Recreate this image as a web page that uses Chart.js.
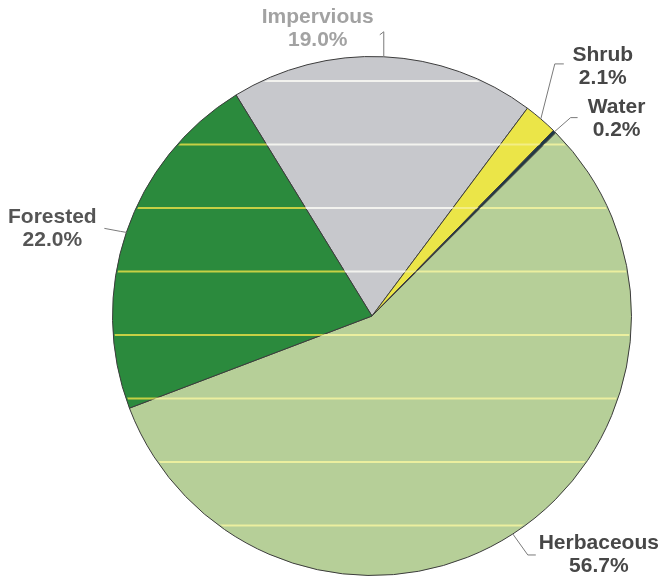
<!DOCTYPE html>
<html>
<head>
<meta charset="utf-8">
<script src="https://cdn.jsdelivr.net/npm/chart.js@4"></script>
<style>
  html, body { margin: 0; padding: 0; background: #ffffff; }
  #wrap { width: 663px; height: 578px; }
</style>
</head>
<body>
<div id="wrap"><canvas id="landCover" width="663" height="578"></canvas></div>
<script>
// ==========================
// Land cover data
// ==========================
const categories = ["Impervious", "Shrub", "Water", "Herbaceous", "Forested"];
const shares = [19.0, 2.1, 0.2, 56.7, 22.0];
const shareLabels = ["19.0%", "2.1%", "0.2%", "56.7%", "22.0%"];

const sliceColors = ["#c7c8cc", "#ebe548", "#1e3a46", "#b6cf98", "#2b8a3d"];
const stripeColors = ["rgba(245,245,240,0.95)", "rgba(245,240,150,0.8)", "rgba(0,0,0,0)", "rgba(245,245,160,0.85)", "rgba(215,215,70,0.9)"];
const textColors = ["#a2a2a2", "#474747", "#474747", "#474747", "#555555"];

// label text offsets / leader bends, relative to the slice anchor on the rim
const labelLayout = [
    { text: [-66, -40], leader: [[0, -25], [-4, -22]] },
    { text: [62, -64], leader: [[14, -55], [23, -55]] },
    { text: [62, -24], leader: [[16, -14], [23, -14]] },
    { text: [86, 9], leader: [[15, 21], [23, 21]] },
    { text: [-74, -15], leader: [[-6, -1], [-22, -4]] }
];

// ==========================
// Stripes across the pie
// ==========================
const stripePlugin = {
    id: "stripes",
    afterDatasetsDraw(chart) {
        const ctx = chart.ctx;
        const arcs = chart.getDatasetMeta(0).data;
        arcs.forEach((arc, i) => {
            const { x, y, startAngle, endAngle, outerRadius } = arc.getProps(["x", "y", "startAngle", "endAngle", "outerRadius"], true);
            ctx.save();
            ctx.beginPath();
            ctx.moveTo(x, y);
            ctx.arc(x, y, outerRadius - 1.5, startAngle, endAngle);
            ctx.closePath();
            ctx.clip();
            ctx.strokeStyle = stripeColors[i];
            ctx.lineWidth = 2;
            for (let sy = y - 235; sy < y + outerRadius; sy += 63.5) {
                ctx.beginPath();
                ctx.moveTo(x - outerRadius, sy);
                ctx.lineTo(x + outerRadius, sy);
                ctx.stroke();
            }
            ctx.restore();
        });
    }
};

// ==========================
// Outside labels with leader lines
// ==========================
const labelPlugin = {
    id: "outsideLabels",
    afterDraw(chart) {
        const ctx = chart.ctx;
        const arcs = chart.getDatasetMeta(0).data;
        arcs.forEach((arc, i) => {
            const { x, y, startAngle, endAngle, outerRadius } = arc.getProps(["x", "y", "startAngle", "endAngle", "outerRadius"], true);
            const mid = (startAngle + endAngle) / 2;
            const ax = x + Math.cos(mid) * outerRadius;
            const ay = y + Math.sin(mid) * outerRadius;
            const lay = labelLayout[i];

            ctx.save();
            ctx.strokeStyle = "#7a7a7a";
            ctx.lineWidth = 1;
            ctx.beginPath();
            ctx.moveTo(ax, ay);
            lay.leader.forEach(p => ctx.lineTo(ax + p[0], ay + p[1]));
            ctx.stroke();

            ctx.fillStyle = textColors[i];
            ctx.font = "bold 21px 'Liberation Sans', Arial, sans-serif";
            ctx.textAlign = "center";
            ctx.textBaseline = "middle";
            const tx = ax + lay.text[0];
            const ty = ay + lay.text[1];
            ctx.fillText(categories[i], tx, ty);
            ctx.fillText(shareLabels[i], tx, ty + 23);
            ctx.restore();
        });
    }
};

// ==========================
// Pie chart
// ==========================
const ctx = document.getElementById("landCover").getContext("2d");
const landChart = new Chart(ctx, {
    type: "pie",
    data: {
        labels: categories,
        datasets: [{
            data: shares,
            backgroundColor: sliceColors,
            borderColor: "#3c3c3c",
            borderWidth: 1
        }]
    },
    options: {
        responsive: false,
        animation: false,
        rotation: -31.6,
        layout: {
            padding: { left: 112, right: 31, top: 56, bottom: 2 }
        },
        plugins: {
            legend: { display: false },
            tooltip: { enabled: false }
        }
    },
    plugins: [stripePlugin, labelPlugin]
});
</script>
</body>
</html>
